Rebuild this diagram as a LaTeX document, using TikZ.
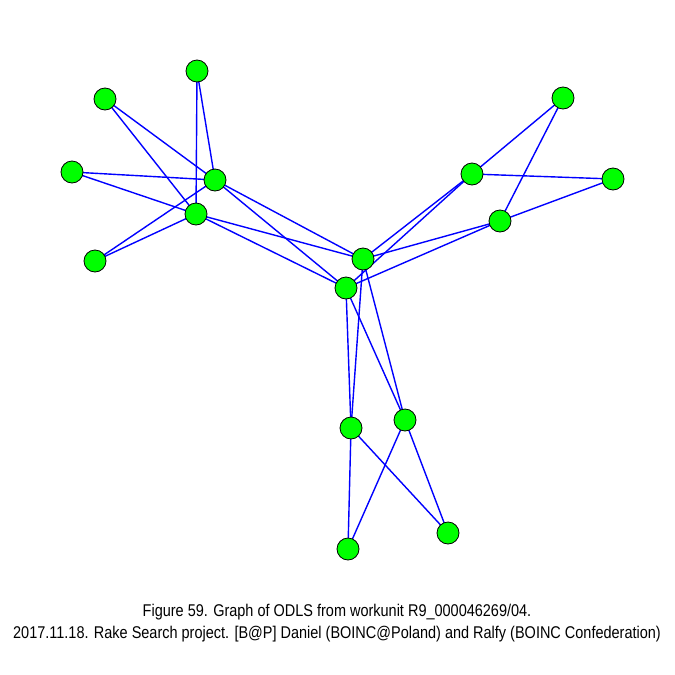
\documentclass[tikz,border=0pt]{standalone}
\usepackage{fontspec}
\setmainfont{Liberation Sans}[FakeStretch=0.852]
\begin{document}
\begin{tikzpicture}[x=1pt,y=-1pt,
  vtx/.style={circle,draw=black,line width=0.8pt,fill={rgb,255:red,0;green,255;blue,0},minimum size=22pt,inner sep=0pt},
  edge/.style={draw={rgb,255:red,0;green,0;blue,255},line width=1.4pt},
  captxt/.style={font=\fontsize{17}{22}\selectfont,anchor=base,inner sep=0pt}]
\useasboundingbox (0,0) rectangle (675,675);
\coordinate (pA) at (197,71);
\coordinate (pB) at (105,99);
\coordinate (pC) at (72,172);
\coordinate (pD) at (95,261);
\coordinate (pE) at (215,180);
\coordinate (pF) at (196,214);
\coordinate (pG) at (563,98);
\coordinate (pH) at (613,179);
\coordinate (pI) at (472,174);
\coordinate (pJ) at (500,221);
\coordinate (pK) at (363,259);
\coordinate (pL) at (346,288);
\coordinate (pM) at (351,428);
\coordinate (pN) at (405,420);
\coordinate (pO) at (348,549);
\coordinate (pP) at (448,533);
\foreach \a/\b in {A/E,A/F,B/E,B/F,C/E,C/F,D/E,D/F,E/K,E/L,F/K,F/L,G/I,G/J,H/I,H/J,I/K,I/L,J/K,J/L,K/M,K/N,L/M,L/N,M/O,M/P,N/O,N/P}
  \draw[edge] (p\a) -- (p\b);
\foreach \n in {A,B,C,D,E,F,G,H,I,J,K,L,M,N,O,P}
  \node[vtx] (\n) at (p\n) {};
\node[captxt] (cap1) at (337,616) {Figure 59. Graph of ODLS from workunit R9\_000046269/04.};
\node[captxt] (cap2) at (337,638) {2017.11.18. Rake Search project. [B@P] Daniel (BOINC@Poland) and Ralfy (BOINC Confederation)};
\end{tikzpicture}
\end{document}
